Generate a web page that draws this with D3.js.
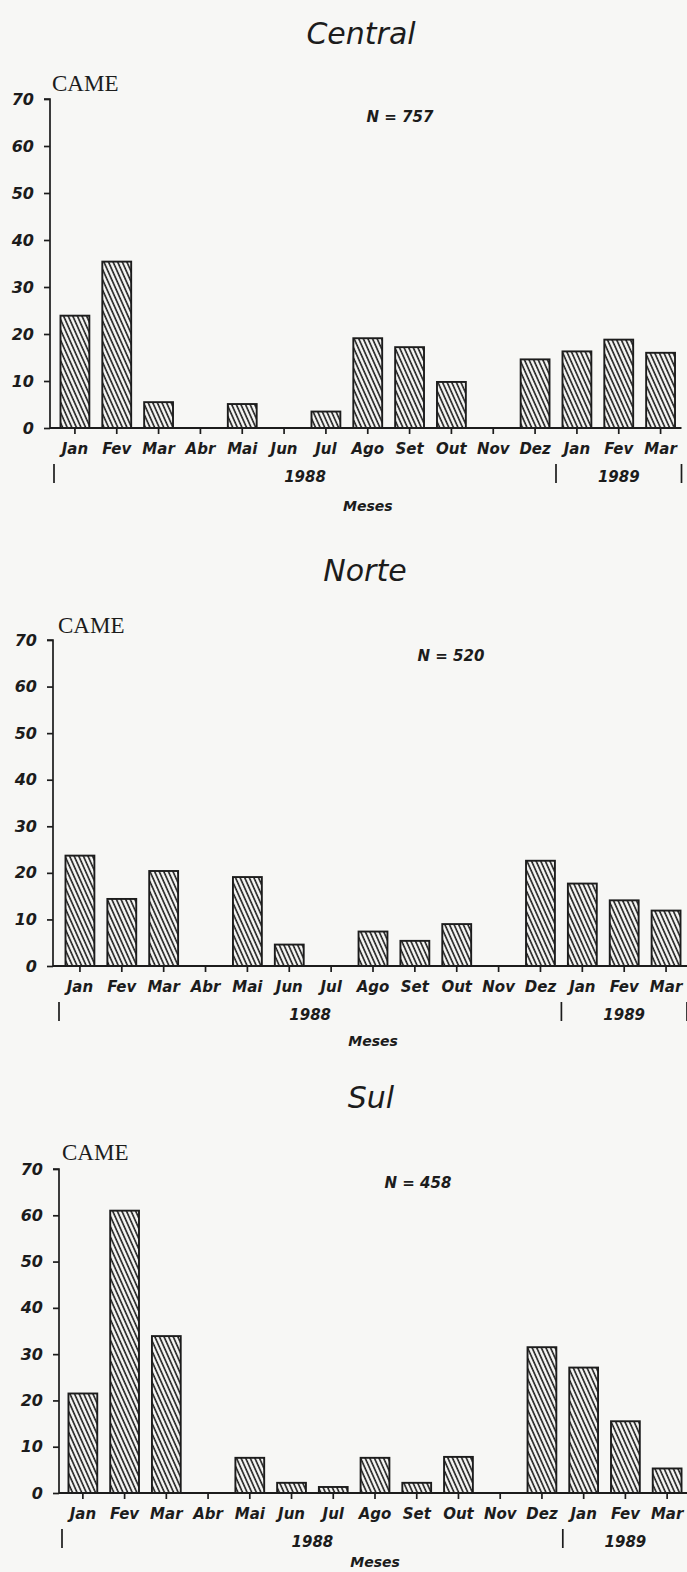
<!DOCTYPE html>
<html>
<head>
<meta charset="utf-8">
<script src="https://cdn.jsdelivr.net/npm/d3@7"></script>
<style>
  html, body { margin: 0; padding: 0; background: #f7f7f5; }
  svg { display: block; }
  .lbl { font-family: "DejaVu Sans", sans-serif; font-style: italic; font-weight: bold; fill: #1c1c1c; }
  .title { font-family: "DejaVu Sans", sans-serif; font-style: italic; fill: #1c1c1c; }
  .came { font-family: "Liberation Serif", "Times New Roman", serif; fill: #1c1c1c; }
</style>
</head>
<body>
<svg id="chart" width="687" height="1572"></svg>
<script>
// ---- data ----
const months = ["Jan","Fev","Mar","Abr","Mai","Jun","Jul","Ago","Set","Out","Nov","Dez","Jan","Fev","Mar"];
const years = ["1988", "1989"];
const yearSpans = [[0, 12], [12, 15]];   // month index ranges covered by each year label
const yTicks = [0, 10, 20, 30, 40, 50, 60, 70];
const panelTitles = ["Central", "Norte", "Sul"];
const panelN = ["N = 757", "N = 520", "N = 458"];
const yLabel = "CAME";
const xLabel = "Meses";
const centralValues = [23.9, 35.4, 5.5, 0, 5.1, 0, 3.5, 19.1, 17.2, 9.8, 0, 14.6, 16.3, 18.8, 16.0];
const norteValues   = [23.7, 14.4, 20.4, 0, 19.1, 4.6, 0, 7.4, 5.4, 9.0, 0, 22.6, 17.7, 14.1, 11.9];
const sulValues     = [21.5, 61.0, 33.9, 0, 7.6, 2.2, 1.3, 7.6, 2.2, 7.8, 0, 31.5, 27.1, 15.5, 5.3];
const seriesValues = [centralValues, norteValues, sulValues];

// ---- layout (positions only) ----
const layouts = [
  { axisX: 50, y70: 99,   y0: 428,  band: [54, 681.5], titleX: 361, titleY: 33,   cameX: 52, cameY: 83,   nX: 400, nY: 117,  mesasDy: 78 },
  { axisX: 53, y70: 640,  y0: 966,  band: [59, 687],   titleX: 365, titleY: 570,  cameX: 58, cameY: 625,  nX: 451, nY: 656,  mesasDy: 75 },
  { axisX: 59, y70: 1169, y0: 1493, band: [62, 688],   titleX: 371, titleY: 1097, cameX: 62, cameY: 1152, nX: 418, nY: 1183, mesasDy: 69 }
];

const svg = d3.select("#chart");
const ink = "#1c1c1c";

// hatch pattern
const defs = svg.append("defs");
const pat = defs.append("pattern")
  .attr("id", "hatch")
  .attr("patternUnits", "userSpaceOnUse")
  .attr("width", 4.2).attr("height", 10)
  .attr("patternTransform", "rotate(-24)");
pat.append("rect").attr("width", 4.2).attr("height", 10).attr("fill", "#f7f7f5");
pat.append("line").attr("x1", 1).attr("y1", 0).attr("x2", 1).attr("y2", 10)
  .attr("stroke", ink).attr("stroke-width", 1.6);

panelTitles.forEach((title, p) => {
  const L = layouts[p];
  const vals = seriesValues[p];
  const g = svg.append("g");

  const x = d3.scaleBand().domain(d3.range(months.length)).range(L.band).paddingInner(0.31).paddingOuter(0.155);
  const y = d3.scaleLinear().domain([0, 70]).range([L.y0, L.y70]);

  // title
  g.append("text").attr("class", "title")
    .attr("x", L.titleX).attr("y", L.titleY).attr("dy", "0.36em")
    .attr("text-anchor", "middle").attr("font-size", 30).text(title);

  // CAME
  g.append("text").attr("class", "came")
    .attr("x", L.cameX).attr("y", L.cameY).attr("dy", "0.35em")
    .attr("font-size", 23).text(yLabel);

  // N label
  g.append("text").attr("class", "lbl")
    .attr("x", L.nX).attr("y", L.nY).attr("dy", "0.36em")
    .attr("text-anchor", "middle").attr("font-size", 15).text(panelN[p]);

  // bars
  g.selectAll("rect.bar")
    .data(vals.map((v, i) => ({ v, i })).filter(d => d.v > 0))
    .join("rect")
    .attr("class", "bar")
    .attr("x", d => x(d.i))
    .attr("width", x.bandwidth())
    .attr("y", d => y(d.v))
    .attr("height", d => y(0) - y(d.v))
    .attr("fill", "url(#hatch)")
    .attr("stroke", ink).attr("stroke-width", 1.9);

  // y axis
  const yAxis = d3.axisLeft(y).tickValues(yTicks).tickSize(6).tickPadding(10).tickFormat(d3.format("d"));
  const ya = g.append("g").attr("transform", `translate(${L.axisX},0)`).call(yAxis);
  ya.select(".domain").attr("stroke", ink).attr("stroke-width", 1.7).attr("d", `M-6,${L.y70}H0V${L.y0}`);
  ya.selectAll(".tick line").attr("stroke", ink).attr("stroke-width", 1.7);
  ya.selectAll(".tick text").attr("class", "lbl").attr("font-size", 16).attr("fill", ink);

  // x axis
  const xAxis = d3.axisBottom(x).tickSize(6).tickPadding(14).tickFormat(i => months[i]);
  const xa = g.append("g").attr("transform", `translate(0,${L.y0})`).call(xAxis);
  xa.select(".domain").attr("stroke", ink).attr("stroke-width", 2.2).attr("d", `M${L.axisX},0H${L.band[1]}`);
  xa.selectAll(".tick line").attr("stroke", ink).attr("stroke-width", 1.7);
  xa.selectAll(".tick text").attr("class", "lbl").attr("font-size", 15).attr("fill", ink)
    .attr("dy", "0.4em");

  // year separators and labels
  const step = x.step();
  const edge = i => L.band[0] + step * i;
  const seps = [0, 12, 15];
  g.selectAll("line.sep").data(seps).join("line").attr("class", "sep")
    .attr("x1", d => edge(d)).attr("x2", d => edge(d))
    .attr("y1", L.y0 + 36).attr("y2", L.y0 + 55)
    .attr("stroke", ink).attr("stroke-width", 1.7);
  g.selectAll("text.year").data(years).join("text").attr("class", "lbl year")
    .attr("x", (d, k) => (edge(yearSpans[k][0]) + edge(yearSpans[k][1])) / 2)
    .attr("y", L.y0 + 49).attr("dy", "0.36em")
    .attr("text-anchor", "middle").attr("font-size", 15).text(d => d);

  // x label
  g.append("text").attr("class", "lbl")
    .attr("x", (L.band[0] + L.band[1]) / 2).attr("y", L.y0 + L.mesasDy).attr("dy", "0.36em")
    .attr("text-anchor", "middle").attr("font-size", 14).text(xLabel);
});
</script>
</body>
</html>
